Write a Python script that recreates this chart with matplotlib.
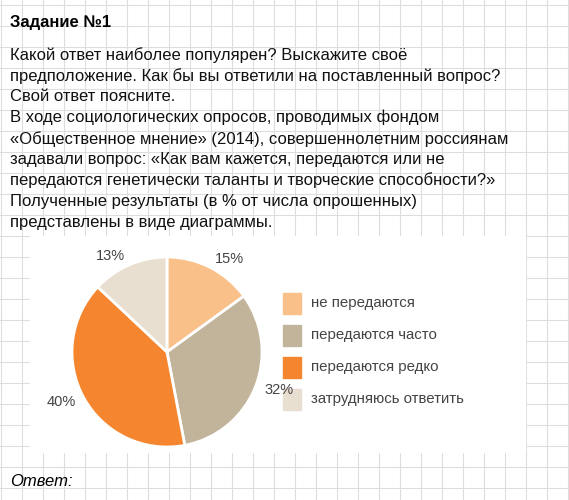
import matplotlib
matplotlib.use("Agg")
import matplotlib.pyplot as plt
from matplotlib.patches import Rectangle

plt.rcParams['font.family'] = ['Liberation Sans', 'DejaVu Sans']

categories = ["не передаются", "передаются часто", "передаются редко", "затрудняюсь ответить"]
values = [15, 32, 40, 13]
colors = ["#F9C08A", "#C2B39B", "#F5862F", "#E9DFD0"]

title = "Задание №1"
lines = [
    "Какой ответ наиболее популярен? Выскажите своё",
    "предположение. Как бы вы ответили на поставленный вопрос?",
    "Свой ответ поясните.",
    "В ходе социологических опросов, проводимых фондом",
    "«Общественное мнение» (2014), совершеннолетним россиянам",
    "задавали вопрос: «Как вам кажется, передаются или не",
    "передаются генетически таланты и творческие способности?»",
    "Полученные результаты (в % от числа опрошенных)",
    "представлены в виде диаграммы.",
]

W, H = 569, 500
fig = plt.figure(figsize=(W/100, H/100), dpi=100)
bg = fig.add_axes([0, 0, 1, 1])
bg.set_xlim(0, W); bg.set_ylim(H, 0); bg.axis('off')
for x in range(1, W, 21):
    bg.axvline(x, color="#dddddd", lw=0.8)
for y in range(5, H, 21):
    bg.axhline(y, color="#dddddd", lw=0.8)
bg.add_patch(Rectangle((30, 236), 495, 216, color="white", zorder=2))

bg.text(10, 22, title, fontsize=12, fontweight='bold', va='center', zorder=3)
for i, t in enumerate(lines):
    bg.text(10, 55 + i*20.9, t, fontsize=12, va='center', color="#111111", zorder=3)
bg.text(10, 482, "Ответ:", fontsize=12, style='italic', va='center', zorder=3)

for i, c in enumerate(categories):
    y = 293 + i*32
    bg.add_patch(Rectangle((283, y), 18, 21, color=colors[i], zorder=3))
    bg.text(311, y + 10.5, c, fontsize=10.8, color="#444444", va='center', zorder=3)

cx, cy, r = 167, 352, 95
ax = fig.add_axes([(cx-r)/W, (H-cy-r)/H, 2*r/W, 2*r/H])
wedges, texts = ax.pie(values, colors=colors, startangle=90, counterclock=False,
                       labels=[f"{v}%" for v in values], labeldistance=1.1,
                       wedgeprops=dict(edgecolor='white', linewidth=2),
                       textprops=dict(fontsize=10.5, color="#444444"))
ax.set_xlim(-1, 1); ax.set_ylim(-1, 1)
ax.set_aspect('equal')
fig.savefig("out.png", dpi=100)
